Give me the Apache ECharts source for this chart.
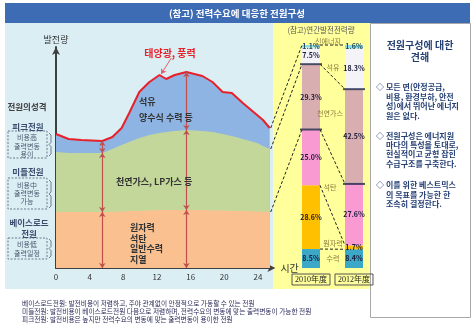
<!DOCTYPE html>
<html><head><meta charset="utf-8">
<script src="https://cdn.jsdelivr.net/npm/echarts@6/dist/echarts.min.js"></script>
<style>html,body{margin:0;padding:0;background:#fff}#c{width:474px;height:330px}</style>
</head><body><div id="c"></div>
<script>
// ---- left chart: daily load curve (values in chart units) ----
const hours       = [0,1.5,3,5.5,6.7,7.8,8.7,9.9,11.1,12.3,13.1,14.1,15.5,17.4,18.6,19.8,20.9,22.2,23.9,24.6,25.4];
const totalDemand = [134,129,128,127,131,140,155,176,186,193,189,193,196,192,186,176,175,165,153,148,140];
const middleTop   = [116,115,115,115,119,123,126,130,133,135,136,137,138,137,136,134,132,129,125,122,119];
const baseTop     = [56,56,56,56,56,56.5,57,57,57.5,58,58,58,58,58,57.5,57.5,57,57,56.5,56,56];
const hourTicks   = [0,4,8,12,16,20,24];
const arrowIdx    = [3,12];
const sunPointer  = [[13.7,210],[12.5,194]];

// ---- stacked bars: annual generation share ----
const years     = ['2010年度','2012年度'];
const sources   = ['수력','원자력','석탄','천연가스','석유','신에너지'];
const share2010 = [8.5,28.6,25.0,29.3,7.5,1.1];
const share2012 = [8.4,1.7,27.6,42.5,18.3,1.6];

const FONT = '"Noto Sans CJK KR"';
const barColors = ['#3ba8c8','#ffc000','#f99ad2','#d9aeb0','#f3f3f8','#8fdde8'];
const barW = 18;

function cum(a){let s=0;return a.map(v=>(s=+(s+v).toFixed(2)));}
const c2010 = cum(share2010), c2012 = cum(share2012);

function T(text,x,y,size,fill,opt){
  opt=opt||{};
  const al=opt.align||'center';
  return {type:'text',x:x,y:y,z:opt.z||60,silent:true,style:{text:text,fill:fill,
    font:(opt.bold?'bold ':'')+size+'px '+(opt.family||FONT),
    textAlign:al,align:al,textVerticalAlign:'middle',verticalAlign:'middle'}};
}
function R(x,y,w,h,style,z){return {type:'rect',z:z===undefined?-10:z,silent:true,shape:{x:x,y:y,width:w,height:h},style:style};}
function brace(x,top,bot){const m=(top+bot)/2;return {type:'polyline',z:20,silent:true,shape:{points:[[x,top],[x+2,top+2],[x+2,m-2],[x,m],[x+2,m+2],[x+2,bot-2],[x,bot]]},style:{stroke:'#6f7f90',lineWidth:1,fill:null}};}

const elements = [
  R(5,3,465,20,{fill:'#3d6cb4'}),
  R(5,23,268,266,{fill:'#dbeef4'}),
  R(273,23,97,266,{fill:'#ffff9c'}),
  R(370.5,23.5,100,294,{fill:'#ffffff',stroke:'#a8a8a8',lineWidth:1}),
  T('(참고) 전력수요에 대응한 전원구성',237,13,9.5,'#ffffff',{bold:true}),
  // left legend
  T('전원의성격',27,107,8.5,'#404040',{bold:true}),
  T('피크전원',28,127,8.5,'#3b4d6e',{bold:true}),
  R(8,131,39,27,{fill:null,stroke:'#6b7b8c',lineWidth:1,lineDash:[2,1.5]},20),
  T('비용高',27,137,7,'#4a5a6e'),T('출력변동',27,146,7,'#4a5a6e'),T('용이',27,154,7,'#4a5a6e'),
  T('미들전원',28,172,8.5,'#3b4d6e',{bold:true}),
  R(8,178,39,31,{fill:null,stroke:'#6b7b8c',lineWidth:1,lineDash:[2,1.5]},20),
  T('비용中',27,185,7,'#4a5a6e'),T('출력변동',27,193,7,'#4a5a6e'),T('가능',27,201,7,'#4a5a6e'),
  T('베이스로드',29,223,8.5,'#3b4d6e',{bold:true}),T('전원',29,234,8.5,'#3b4d6e',{bold:true}),
  R(8,238,39,21,{fill:null,stroke:'#6b7b8c',lineWidth:1,lineDash:[2,1.5]},20),
  T('비용低',27,244,7,'#4a5a6e'),T('출력일정',27,253,7,'#4a5a6e'),
  brace(49,133,156),brace(49,180,208),brace(49,239,258),
  // in-chart labels
  T('태양광, 풍력',170,53,10,'#e8202a',{bold:true}),
  T('석유',139,102,9,'#333333',{bold:true,align:'left'}),
  T('양수식 수력 등',139,118,9,'#333333',{bold:true,align:'left'}),
  T('천연가스, LP가스 등',116,182,9,'#333333',{bold:true,align:'left'}),
  T('원자력',130,228,9,'#333333',{bold:true,align:'left'}),
  T('석탄',130,239,9,'#333333',{bold:true,align:'left'}),
  T('일반수력',130,249,9,'#333333',{bold:true,align:'left'}),
  T('지열',130,260,9,'#333333',{bold:true,align:'left'}),
  // yellow panel
  T('(참고)연간발전전력량',321,30,7.5,'#555555'),
  T('신에너지',328,41,7,'#8a7a3a'),
  T('석유',333,67,7,'#8a7a3a'),
  T('천연가스',330,113,7,'#8a7a3a'),
  T('석탄',330,187,7,'#8a7a3a'),
  T('원자력',333,243,7,'#8a7a3a'),
  T('수력',333,258,7,'#8a7a3a'),
  // right box
  T('전원구성에 대한',420,45,10,'#243f74',{bold:true}),
  T('견해',420,57,10,'#243f74',{bold:true}),
  T('◇',376,87,8,'#243f74',{bold:true,align:'left'}),
  T('모든 면(안정공급,',386,87,8,'#243f74',{bold:true,align:'left'}),
  T('비용, 환경부하, 안전',386,97,8,'#243f74',{bold:true,align:'left'}),
  T('성)에서 뛰어난 에너지',386,106,8,'#243f74',{bold:true,align:'left'}),
  T('원은 없다.',386,116,8,'#243f74',{bold:true,align:'left'}),
  T('◇',376,136,8,'#243f74',{bold:true,align:'left'}),
  T('전원구성은 에너지원',386,136,8,'#243f74',{bold:true,align:'left'}),
  T('마다의 특성을 토대로,',386,145,8,'#243f74',{bold:true,align:'left'}),
  T('현실적이고 균형 잡힌',386,154,8,'#243f74',{bold:true,align:'left'}),
  T('수급구조를 구축한다.',386,164,8,'#243f74',{bold:true,align:'left'}),
  T('◇',376,185,8,'#243f74',{bold:true,align:'left'}),
  T('이를 위한 베스트믹스',386,185,8,'#243f74',{bold:true,align:'left'}),
  T('의 목표를 가능한 한',386,195,8,'#243f74',{bold:true,align:'left'}),
  T('조속히 결정한다.',386,204,8,'#243f74',{bold:true,align:'left'}),
  // footnotes
  T('베이스로드전원: 발전비용이 저렴하고, 주야 관계없이 안정적으로 가동할 수 있는 전원',22,303,6.7,'#2a2a5a',{align:'left'}),
  T('미들전원: 발전비용이 베이스로드전원 다음으로 저렴하며, 전력수요의 변동에 맞는 출력변동이 가능한 전원',22,311,6.7,'#2a2a5a',{align:'left'}),
  T('피크전원: 발전비용은 높지만 전력수요의 변동에 맞는 출력변동이 용이한 전원',22,319,6.7,'#2a2a5a',{align:'left'})
];

const arrowSegments = [];
arrowIdx.forEach(i=>{
  const h=hours[i];
  arrowSegments.push([{coord:[h,0]},{coord:[h,baseTop[i]]}]);
  arrowSegments.push([{coord:[h,baseTop[i]]},{coord:[h,middleTop[i]]}]);
  arrowSegments.push([{coord:[h,middleTop[i]]},{coord:[h,totalDemand[i]]}]);
});
const pairs = a => hours.map((h,i)=>[h,a[i]]);

const series = [
  {type:'line',name:'total',xAxisIndex:0,yAxisIndex:0,data:pairs(totalDemand),symbol:'none',z:2,
   lineStyle:{color:'#e8202a',width:2},areaStyle:{color:'#8db4e2',opacity:1},
   markLine:{silent:true,animation:false,symbol:['none','arrow'],symbolSize:5,label:{show:false},
     lineStyle:{color:'#e06070',width:1,type:'solid'},
     data:[[{coord:sunPointer[0]},{coord:sunPointer[1]}]]}},
  {type:'line',name:'middle',xAxisIndex:0,yAxisIndex:0,data:pairs(middleTop),symbol:'none',z:3,
   lineStyle:{width:0},areaStyle:{color:'#c4d79b',opacity:1}},
  {type:'line',name:'base',xAxisIndex:0,yAxisIndex:0,data:pairs(baseTop),symbol:'none',z:4,
   lineStyle:{width:0},areaStyle:{color:'#fac090',opacity:1},
   markLine:{silent:true,animation:false,symbol:['arrow','arrow'],symbolSize:5,label:{show:false},
     lineStyle:{color:'#c0504d',width:1.2,type:'solid'},data:arrowSegments}}
];
sources.forEach((s,i)=>{
  series.push({type:'bar',name:s,stack:'mix',xAxisIndex:1,yAxisIndex:1,barWidth:barW,
    data:[share2010[i],share2012[i]],itemStyle:{color:barColors[i]},
    label:{show:true,position:'inside',formatter:p=>p.value.toFixed(1)+'%',fontSize:7,fontWeight:'bold',
      color:i===5?'#1d4a5a':'#1a1a3a',fontFamily:FONT}});
});
series.push({type:'scatter',xAxisIndex:1,yAxisIndex:1,symbol:'rect',symbolSize:[22,2],z:6,silent:true,
  itemStyle:{color:'#1d2a4d'},data:[[0,c2010[2]],[1,c2012[2]],[0,c2010[3]],[1,c2012[3]]]});

const option = {
  animation:false,
  textStyle:{fontFamily:FONT},
  grid:[{left:56,top:47,width:215.4,height:221},{left:289.5,top:45,width:86,height:223}],
  xAxis:[
    {type:'value',gridIndex:0,min:0,max:25.6,interval:4,
     axisLine:{show:true,lineStyle:{color:'#3f3f3f',width:2},symbol:['none','arrow'],symbolSize:[6,8],symbolOffset:[0,4]},
     axisTick:{show:false},splitLine:{show:false},
     axisLabel:{fontSize:8,color:'#333',margin:5,formatter:v=>hourTicks.includes(v)?String(v):''},
     name:'시간',nameLocation:'end',nameGap:9,nameTextStyle:{fontSize:10,color:'#333',fontFamily:FONT}},
    {type:'category',gridIndex:1,data:years,axisLine:{show:false},axisTick:{show:false},
     axisLabel:{fontSize:8,color:'#222',margin:6,fontFamily:'"Liberation Serif","Noto Sans CJK JP"',
       borderColor:'#555',borderWidth:1,padding:[2,3,1,3]}}
  ],
  yAxis:[
    {type:'value',gridIndex:0,min:0,max:221,
     axisLine:{show:true,lineStyle:{color:'#3f3f3f',width:2},symbol:['none','arrow'],symbolSize:[6,8]},
     axisTick:{show:false},axisLabel:{show:false},splitLine:{show:false},
     name:'발전량',nameLocation:'end',nameGap:3,nameTextStyle:{fontSize:9,color:'#333',fontFamily:FONT}},
    {type:'value',gridIndex:1,min:0,max:100,show:false}
  ],
  graphic:{elements:elements},
  series:series
};

const chart = echarts.init(document.getElementById('c'),null,{renderer:'canvas'});
chart.setOption(option);

// dashed connectors derived from the scales
const p0 = pt=>chart.convertToPixel({gridIndex:0},pt);
const p1 = pt=>chart.convertToPixel({gridIndex:1},pt);
const half = barW/2, L = hours.length-1;
const lines = [];
function pushLine(a,b){lines.push({type:'line',z:50,silent:true,shape:{x1:a[0],y1:a[1],x2:b[0],y2:b[1]},style:{stroke:'#222',lineWidth:1,lineDash:[3,2]}});}
[[totalDemand[L],5],[middleTop[L],3],[baseTop[L],2]].forEach(([v,k])=>{
  const a=p0([hours[L],v]); const b=p1([0,c2010[k]]);
  pushLine([a[0]+1,a[1]],[b[0]-half,b[1]]);
});
[0,1,2,3,5].forEach(k=>{
  const a=p1([0,c2010[k]]), b=p1([1,Math.min(c2012[k],100)]);
  pushLine([a[0]+half,a[1]],[b[0]-half,b[1]]);
});
chart.setOption({graphic:{elements:elements.concat(lines)}});
</script></body></html>
